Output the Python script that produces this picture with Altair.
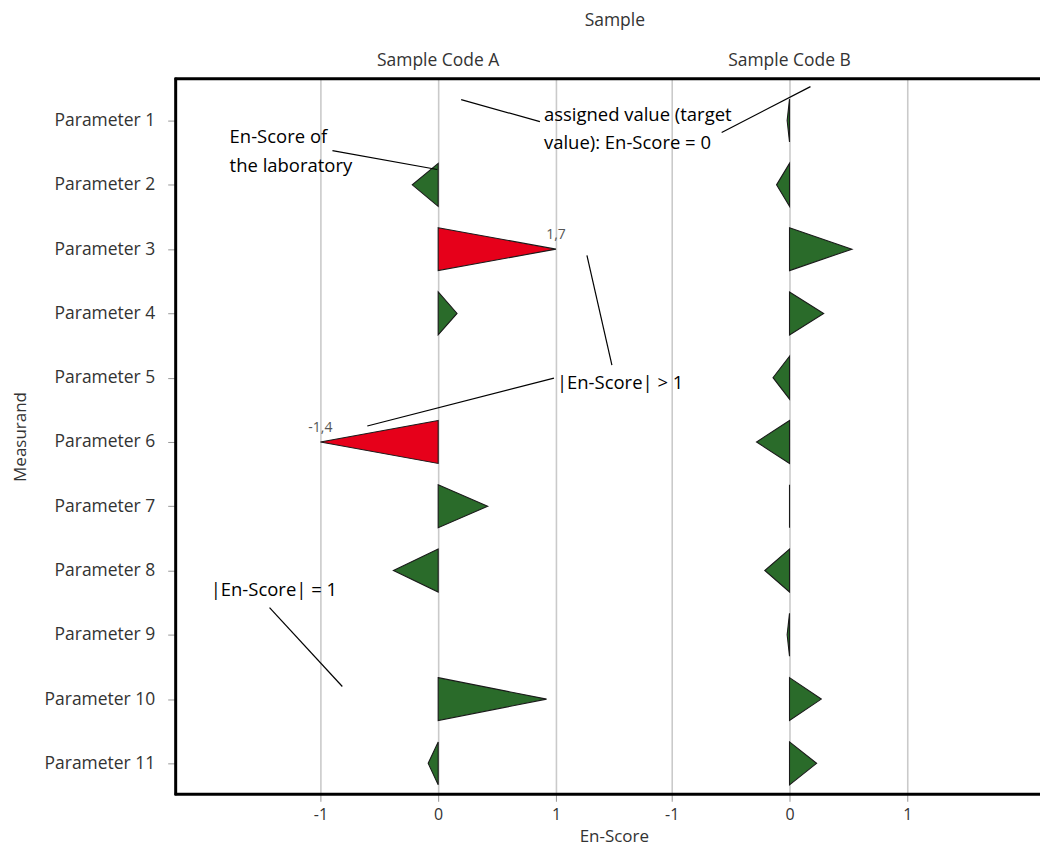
import altair as alt
import pandas as pd

# ---- data ----
params = [f"Parameter {i}" for i in range(1, 12)]
samples = ["Sample Code A", "Sample Code B"]
score_a = [None, -0.22, 1.7, 0.16, None, -1.4, 0.42, -0.38, None, 0.92, -0.085]
score_b = [-0.02, -0.11, 0.53, 0.29, -0.14, -0.28, 0.0, -0.21, -0.02, 0.27, 0.23]
tick_labels = [-1, 0, 1]

# annotation texts (data units: x = En-Score of panel A, y = parameter index)
ann_text = ["En-Score of", "the laboratory", "assigned value (target",
            "value): En-Score = 0", "|En-Score| > 1", "|En-Score| = 1"]
ann_tx = [-1.771, -1.771, 0.898, 0.898, 1.008, -1.932]
ann_ty = [1.248, 1.699, 0.907, 1.342, 5.084, 8.298]
# annotation leader lines
ln_x1 = [-0.898, 0.195, 2.407, 1.263, -0.602, -1.432]
ln_y1 = [1.466, 0.674, 1.186, 3.096, 5.752, 8.578]
ln_x2 = [-0.008, 0.864, 3.161, 1.475, 0.983, -0.814]
ln_y2 = [1.761, 1.016, 0.472, 4.804, 5.006, 9.804]

# ---- layout constants ----
OFFSET = 352 / 118          # panel B is shifted right by this many units
HALF = 0.334                # half height of a triangle (in rows)
W, H = 866, 717
X_DOM = [-2.229, -2.229 + W / 118]
Y_DOM = [0.348, 11.481]
GREEN, RED = "#2a6b2a", "#e6001a"
FONT = "Open Sans"

# ---- build triangles ----
rows, labels = [], []
for s, (name, scores) in enumerate(zip(samples, [score_a, score_b])):
    off = s * OFFSET
    for i, v in enumerate(scores, start=1):
        if v is None:
            continue
        c = max(-1.0, min(1.0, v))
        flag = "out" if abs(v) > 1 else "ok"
        key = f"{name}-{i}"
        for yy, xx in [(i - HALF, 0.0), (i, c), (i + HALF, 0.0)]:
            rows.append(dict(key=key, yy=yy, xx=off + xx, x0=off, flag=flag))
        if abs(v) > 1:
            labels.append(dict(x=off + c, y=i, t=f"{v:.1f}".replace(".", ",")))
tri = pd.DataFrame(rows)
lab = pd.DataFrame(labels)
heads = pd.DataFrame(dict(x=[0.0, OFFSET], t=samples))
ann = pd.DataFrame(dict(x=ann_tx, y=ann_ty, t=ann_text))
lines = pd.DataFrame(dict(x1=ln_x1, y1=ln_y1, x2=ln_x2, y2=ln_y2))
one = pd.DataFrame(dict(k=[0]))

tick_vals = [t for t in tick_labels] + [t + OFFSET for t in tick_labels]

xscale = alt.Scale(domain=X_DOM, nice=False, zero=False)
yscale = alt.Scale(domain=Y_DOM, nice=False, zero=False, reverse=True)

xaxis = alt.Axis(values=tick_vals,
                 labelExpr=f"'' + round(datum.value > 1.5 ? datum.value - {OFFSET} : datum.value)",
                 grid=True, gridColor="#cacaca", gridWidth=1.6, domain=False,
                 tickColor="#999", tickSize=7, labelFontSize=16, labelColor="#333",
                 labelFont=FONT, labelPadding=5, title="En-Score", titleFont=FONT,
                 titleFontSize=17, titleFontWeight="normal", titleColor="#333",
                 titleX=439, titleY=47, titleBaseline="alphabetic")
yaxis = alt.Axis(values=list(range(1, 12)), labelExpr="'Parameter ' + datum.value",
                 grid=False, domain=False, tickColor="#999", tickSize=8,
                 labelFontSize=17.5, labelColor="#333", labelFont=FONT, labelPadding=13,
                 title="Measurand", titleFont=FONT, titleFontSize=17,
                 titleFontWeight="normal", titleColor="#333", titleX=-146)

X = lambda f: alt.X(f, scale=xscale, axis=xaxis)
Y = lambda f: alt.Y(f, scale=yscale, axis=yaxis)

tri_layer = alt.Chart(tri).mark_area(orient="horizontal", stroke="#1a1a1a",
                                     strokeWidth=1.1, opacity=1).encode(
    y=Y("yy:Q"),
    x=X("xx:Q"),
    x2="x0:Q",
    detail="key:N",
    color=alt.Color("flag:N", scale=alt.Scale(domain=["ok", "out"], range=[GREEN, RED]), legend=None),
)

val_layer = alt.Chart(lab).mark_text(font=FONT, fontSize=14, color="#555", dy=-14).encode(
    x=X("x:Q"), y=Y("y:Q"), text="t:N",
)

line_layer = alt.Chart(lines).mark_rule(color="black", strokeWidth=1.2).encode(
    x=X("x1:Q"), y=Y("y1:Q"), x2="x2:Q", y2="y2:Q",
)

ann_layer = alt.Chart(ann).mark_text(font=FONT, fontSize=18.5, color="black", align="left",
                                     baseline="middle").encode(
    x=X("x:Q"), y=Y("y:Q"), text="t:N",
)

head_layer = alt.Chart(heads).mark_text(font=FONT, fontSize=17.5, color="#333",
                                        baseline="middle").encode(
    x=X("x:Q"), y=alt.value(-18), text="t:N",
)

sample_title = alt.Chart(one).mark_text(font=FONT, fontSize=17.5, color="#333",
                                        baseline="middle", text="Sample").encode(
    x=alt.value(440), y=alt.value(-58),
)

frame_top = alt.Chart(one).mark_rule(color="black", strokeWidth=3).encode(
    x=alt.value(-1), x2=alt.value(W + 20), y=alt.value(0))
frame_left = alt.Chart(one).mark_rule(color="black", strokeWidth=3).encode(
    x=alt.value(0), y=alt.value(-1), y2=alt.value(H + 1))
frame_bottom = alt.Chart(one).mark_rule(color="black", strokeWidth=3).encode(
    x=alt.value(-1), x2=alt.value(W + 20), y=alt.value(H))

chart = alt.layer(
    tri_layer, val_layer, line_layer, ann_layer, head_layer, sample_title,
    frame_top, frame_left, frame_bottom,
).properties(
    width=W, height=H, autosize=alt.AutoSizeParams(type="none"),
    padding={"left": 168, "top": 70, "right": 0, "bottom": 55},
    background="white",
).configure_view(stroke="transparent", strokeWidth=0)

chart.save("out.html", embed_options={"renderer": "svg", "actions": False})
